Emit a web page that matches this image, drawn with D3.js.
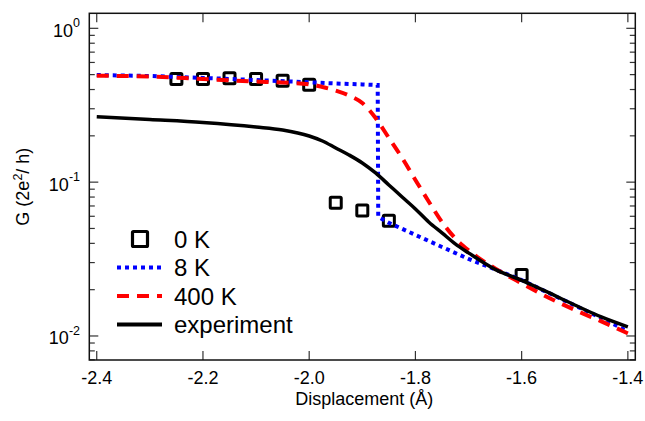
<!DOCTYPE html>
<html>
<head>
<meta charset="utf-8">
<script src="https://cdn.jsdelivr.net/npm/d3@7"></script>
<style>
  body { margin: 0; background: #fff; }
  text, tspan { font-family: "Liberation Sans", Arial, Helvetica, sans-serif; fill: #000; }
</style>
</head>
<body>
<div id="chart"></div>
<script>
const width = 645;
const height = 421;

// displacement grid used by the 400 K and experiment curves
const xs = [-2.4, -2.3, -2.2, -2.1, -2.05, -2.0, -1.975, -1.95, -1.925, -1.9, -1.875, -1.85,
    -1.825, -1.8, -1.775, -1.75, -1.725, -1.7, -1.65, -1.6, -1.55, -1.5, -1.45, -1.4];

const g400 = [0.492, 0.486, 0.468, 0.451, 0.444, 0.433, 0.4155, 0.394, 0.366, 0.327, 0.261, 0.194,
    0.1436, 0.1033, 0.0749, 0.0551, 0.0431, 0.0360, 0.0275, 0.0220, 0.0178, 0.01477, 0.01244, 0.0104];

const gExp = [0.2665, 0.2555, 0.2443, 0.2284, 0.2184, 0.1996, 0.1852, 0.1668, 0.1502, 0.1333, 0.1148, 0.0959,
    0.0801, 0.0670, 0.0551, 0.0468, 0.0397, 0.0347, 0.0271, 0.0230, 0.0192, 0.0159, 0.0133, 0.01146];

// 8 K has a sharp drop, so it keeps its own x values
const x8 = [-2.4, -2.3, -2.2, -2.1, -2.0, -1.95, -1.9, -1.871, -1.870, -1.85, -1.8, -1.75,
    -1.7, -1.65, -1.6, -1.55, -1.5, -1.45, -1.4];
const g8 = [0.497, 0.490, 0.476, 0.461, 0.446, 0.438, 0.432, 0.428, 0.0594, 0.0544, 0.0454, 0.0379,
    0.0317, 0.0271, 0.0231, 0.0191, 0.0158, 0.0131, 0.0107];

// 0 K squares
const x0 = [-2.25, -2.2, -2.15, -2.1, -2.05, -2.0, -1.95, -1.9, -1.85, -1.6];
const g0 = [0.468, 0.468, 0.473, 0.468, 0.456, 0.430, 0.0736, 0.0653, 0.0562, 0.0249];

const xTicks = [-2.4, -2.2, -2.0, -1.8, -1.6, -1.4];
const yMajor = [1, 0.1, 0.01];
const yExp = ["0", "-1", "-2"];

const legendItems = [
    { label: "0 K", type: "square" },
    { label: "8 K", type: "line", color: "#0000ff", dash: "4,4", w: 4 },
    { label: "400 K", type: "line", color: "#ff0000", dash: "12,8", w: 4 },
    { label: "experiment", type: "line", color: "#000", dash: null, w: 4 }
];

const pLeft = 89.3, pRight = 635.3, pTop = 13.3, pBottom = 360;

const x = d3.scaleLinear().domain([-2.414, -1.386]).range([pLeft, pRight]);
const y = d3.scaleLog().domain([1.252, 0.00698]).range([pTop, pBottom]);

const svg = d3.select("#chart")
    .append("svg")
    .attr("width", width)
    .attr("height", height);

// minor log ticks
const yMinor = [];
[1, 0.1, 0.01].forEach(dec => {
    for (let k = 2; k <= 9; k++) {
        const val = dec / 10 * k;
        if (val > 0.00698 && val < 1.252) yMinor.push(val);
    }
});

const ticks = svg.append("g").attr("stroke", "#333").attr("stroke-width", 1.2);

yMajor.forEach(v => {
    ticks.append("line").attr("x1", pLeft).attr("x2", pLeft + 9).attr("y1", y(v)).attr("y2", y(v));
    ticks.append("line").attr("x1", pRight).attr("x2", pRight - 9).attr("y1", y(v)).attr("y2", y(v));
});
yMinor.forEach(v => {
    ticks.append("line").attr("x1", pLeft).attr("x2", pLeft + 5.5).attr("y1", y(v)).attr("y2", y(v));
    ticks.append("line").attr("x1", pRight).attr("x2", pRight - 5.5).attr("y1", y(v)).attr("y2", y(v));
});
xTicks.forEach(v => {
    ticks.append("line").attr("x1", x(v)).attr("x2", x(v)).attr("y1", pBottom).attr("y2", pBottom - 9);
    ticks.append("line").attr("x1", x(v)).attr("x2", x(v)).attr("y1", pTop).attr("y2", pTop + 9);
});

// frame
svg.append("rect")
    .attr("x", pLeft)
    .attr("y", pTop)
    .attr("width", pRight - pLeft)
    .attr("height", pBottom - pTop)
    .attr("fill", "none")
    .attr("stroke", "#111")
    .attr("stroke-width", 1.5);

// x tick labels
svg.selectAll(".xlab")
    .data(xTicks)
    .enter()
    .append("text")
    .attr("class", "xlab")
    .attr("x", d => x(d))
    .attr("y", 384)
    .attr("text-anchor", "middle")
    .attr("font-size", "18px")
    .text(d => d.toFixed(1));

// y tick labels, 10 with exponent
yMajor.forEach((v, i) => {
    const t = svg.append("text")
        .attr("x", 80)
        .attr("y", y(v) + 8.5)
        .attr("text-anchor", "end")
        .attr("font-size", "18px");
    t.append("tspan").text("10");
    t.append("tspan").attr("dy", -9.5).attr("font-size", "12.5px").text(yExp[i]);
});

// axis titles
svg.append("text")
    .attr("x", (pLeft + pRight) / 2 + 2)
    .attr("y", 405)
    .attr("text-anchor", "middle")
    .attr("font-size", "18px")
    .text("Displacement (Å)");

const yt = svg.append("text")
    .attr("transform", `translate(29,${(pTop + pBottom) / 2}) rotate(-90)`)
    .attr("text-anchor", "middle")
    .attr("font-size", "18px")
    .attr("fill", "#000");
yt.append("tspan").text("G (2e");
yt.append("tspan").attr("dy", -7).attr("font-size", "12.5px").text("2");
yt.append("tspan").attr("dy", 7).text("/ h)");

const plot = svg.append("g");

// 0 K squares
plot.selectAll(".sq")
    .data(x0.map((d, i) => [d, g0[i]]))
    .enter()
    .append("rect")
    .attr("class", "sq")
    .attr("x", d => x(d[0]) - 5.5)
    .attr("y", d => y(d[1]) - 5.5)
    .attr("width", 11)
    .attr("height", 11)
    .attr("rx", 1)
    .attr("fill", "none")
    .attr("stroke", "#000")
    .attr("stroke-width", 3);

const lineLin = d3.line().x(d => x(d[0])).y(d => y(d[1]));
const lineSmooth = d3.line().x(d => x(d[0])).y(d => y(d[1])).curve(d3.curveMonotoneX);

plot.append("path")
    .attr("d", lineLin(x8.map((d, i) => [d, g8[i]])))
    .attr("fill", "none")
    .attr("stroke", "#0000ff")
    .attr("stroke-width", 4)
    .attr("stroke-dasharray", "4,4");

plot.append("path")
    .attr("d", lineSmooth(xs.map((d, i) => [d, g400[i]])))
    .attr("fill", "none")
    .attr("stroke", "#ff0000")
    .attr("stroke-width", 4)
    .attr("stroke-dasharray", "12,8");

plot.append("path")
    .attr("d", lineSmooth(xs.map((d, i) => [d, gExp[i]])))
    .attr("fill", "none")
    .attr("stroke", "#000")
    .attr("stroke-width", 3.5);

// legend
const leg = svg.append("g");
legendItems.forEach((d, i) => {
    const ly = 239 + i * 28.5;
    if (d.type === "square") {
        leg.append("rect")
            .attr("x", 140 - 7.5).attr("y", ly - 7.5)
            .attr("width", 15).attr("height", 15)
            .attr("rx", 1)
            .attr("fill", "none").attr("stroke", "#000").attr("stroke-width", 3.2);
    } else {
        leg.append("line")
            .attr("x1", 117).attr("x2", 162)
            .attr("y1", ly).attr("y2", ly)
            .attr("stroke", d.color)
            .attr("stroke-width", d.w)
            .attr("stroke-dasharray", d.dash);
    }
    leg.append("text")
        .attr("x", 174)
        .attr("y", ly + 8.5)
        .attr("font-size", "24px")
        .text(d.label);
});
</script>
</body>
</html>
